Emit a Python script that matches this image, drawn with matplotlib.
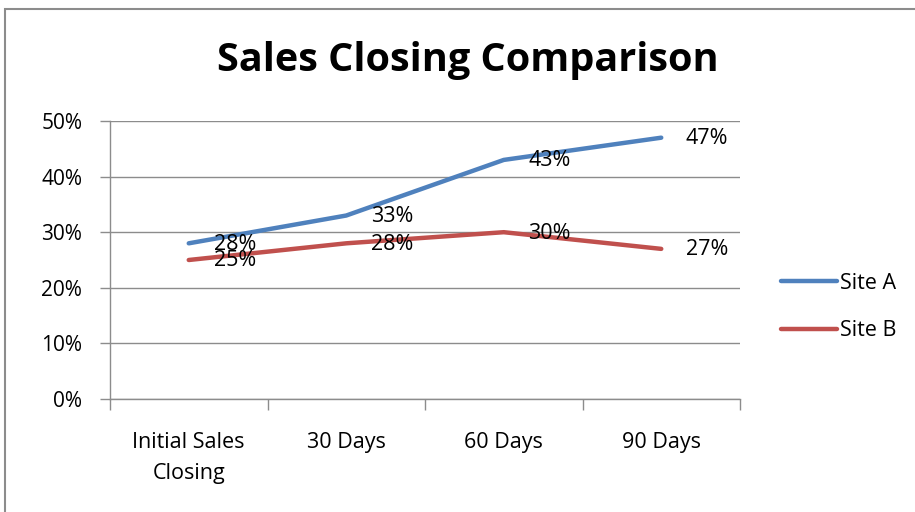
import matplotlib.pyplot as plt
import numpy as np
from matplotlib.patches import Rectangle

categories = ["Initial Sales\nClosing", "30 Days", "60 Days", "90 Days"]
site_a = [28, 33, 43, 47]
site_b = [25, 28, 30, 27]
series_names = ["Site A", "Site B"]

plt.rcParams['font.family'] = ['Open Sans', 'DejaVu Sans']

W, H = 915, 512
fig = plt.figure(figsize=(W / 100, H / 100), dpi=100)
fig.patch.set_facecolor('white')

# outer chart border (cut off at right/bottom like the screenshot)
fig.patches.append(Rectangle((5 / W, -0.1), 1.2, (H - 9) / H + 0.1,
                             transform=fig.transFigure, fill=False,
                             edgecolor='#8c8c8c', linewidth=1.5))

ax = fig.add_axes([110 / W, 1 - 399 / H, (740 - 110) / W, (399 - 121) / H])

x = np.arange(len(categories))
colors = ['#4F81BD', '#C0504D']
for vals, name, c in zip([site_a, site_b], series_names, colors):
    ax.plot(x, vals, color=c, linewidth=3.2, label=name, solid_capstyle='round')
    for xi, v in zip(x, vals):
        ax.annotate(f'{v}%', xy=(xi, v), xytext=(46, -1), textcoords='offset pixels',
                    ha='center', va='center', fontsize=15.5, color='black')

ax.set_xlim(-0.5, len(categories) - 0.5)
ax.set_ylim(0, 50)
ax.set_yticks(range(0, 51, 10))
ax.set_yticklabels([f'{t}%' for t in range(0, 51, 10)], fontsize=15)
ax.set_xticks(x)
ax.set_xticklabels(categories, fontsize=15.5, linespacing=1.6)
ax.set_xticks(np.arange(-0.5, len(categories)), minor=True)
ax.tick_params(axis='x', which='major', length=0, pad=24)
ax.tick_params(axis='x', which='minor', length=8, color='#8c8c8c', width=1)
ax.tick_params(axis='y', length=7, color='#8c8c8c', width=1, pad=13)

ax.grid(axis='y', color='#8c8c8c', linewidth=1)
ax.set_axisbelow(True)
for s in ['top', 'right']:
    ax.spines[s].set_visible(False)
for s in ['left', 'bottom']:
    ax.spines[s].set_color('#8c8c8c')
    ax.spines[s].set_linewidth(1)

fig.text(468 / W, 1 - 61 / H, 'Sales Closing Comparison', ha='center', va='center',
         fontsize=28.5, fontweight='bold')

ax.legend(loc='center left', bbox_to_anchor=(762 / W, 1 - 307 / H),
          bbox_transform=fig.transFigure, frameon=False, fontsize=15.5,
          handlelength=2.6, handletextpad=0.1, labelspacing=1.25)

fig.savefig('out.png', dpi=100)
